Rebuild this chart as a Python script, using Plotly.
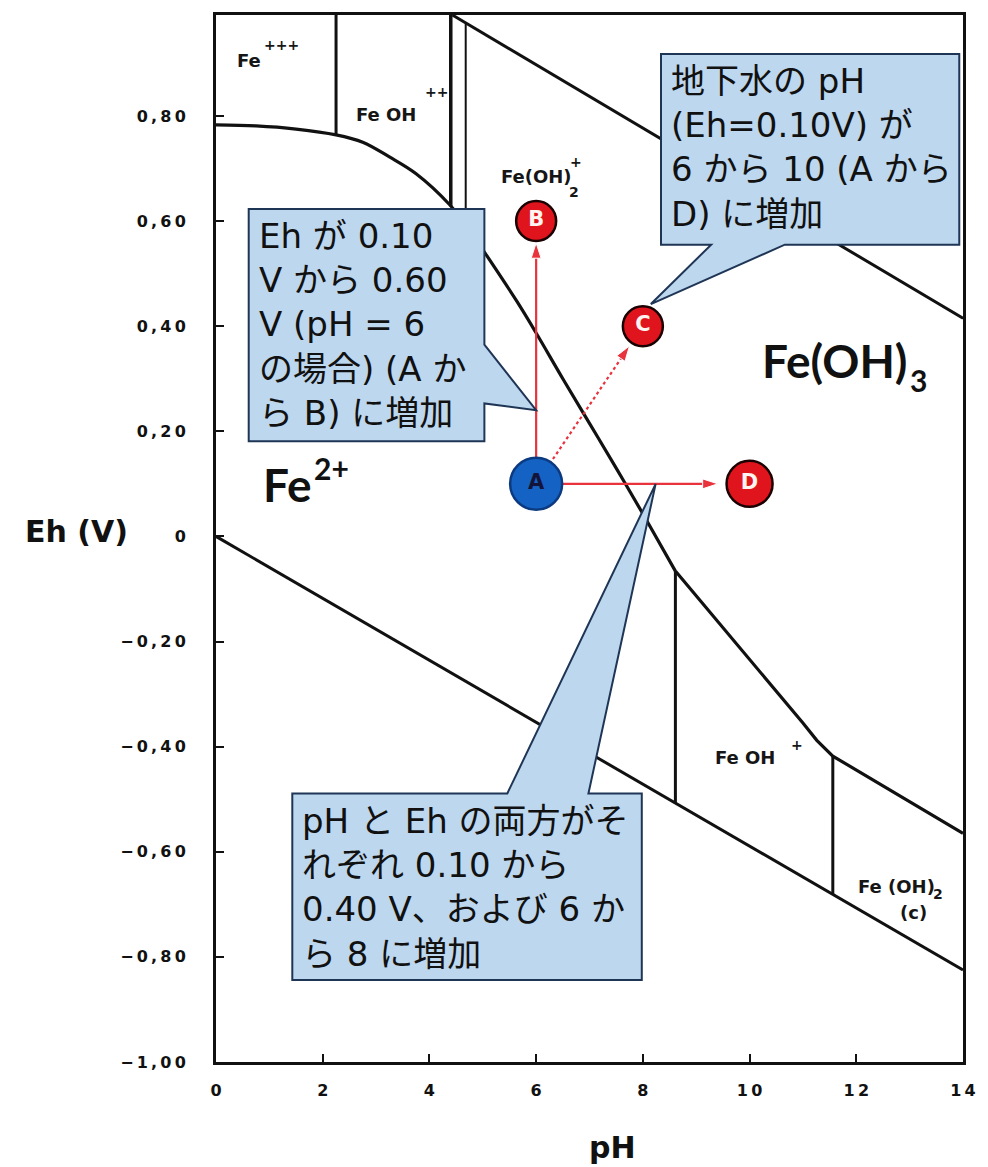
import math
import plotly.graph_objects as go

# ---- canvas and axes ----
W, H = 988, 1167
ML, MR, MT, MB = 216, 18, 13, 105
X_RANGE = [0, 14]
Y_RANGE = [-1.0, 0.992]
KX = (W - ML - MR) / (X_RANGE[1] - X_RANGE[0])   # px per pH unit
KY = (H - MT - MB) / (Y_RANGE[1] - Y_RANGE[0])   # px per volt

THIN = "\u2009"
x_tick_vals = [0, 2, 4, 6, 8, 10, 12, 14]
x_tick_text = ["0", "2", "4", "6", "8", "10", "12", "14"]
y_tick_vals = [-1.0, -0.8, -0.6, -0.4, -0.2, 0.0, 0.2, 0.4, 0.6, 0.8]
y_tick_text = ["\u22121,00", "\u22120,80", "\u22120,60", "\u22120,40", "\u22120,20",
               "0", "0,20", "0,40", "0,60", "0,80"]

# ---- stability-field boundaries (pH, Eh / V) ----
lower_ph = [0, 14]
lower_eh = [0.0, -0.825]

upper_ph = [4.43, 14]
upper_eh = [0.992, 0.415]

# Fe2+ / ferric boundary, acid part (smooth arc) and alkaline part
fe_acid_ph = [0, 0.75, 1.5, 2.25, 2.75, 3.25, 3.75, 4.38, 4.7, 5.03, 5.64,
              6.0, 6.5, 7.0, 7.5, 8.0, 8.61]
fe_acid_eh = [0.783, 0.781, 0.775, 0.764, 0.750, 0.722, 0.690, 0.631, 0.590,
              0.541, 0.447, 0.387, 0.300, 0.215, 0.130, 0.043, -0.066]
fe_alk_ph = [8.61, 9.2, 9.72, 10.2, 10.65, 11.0, 11.26, 11.56, 14]
fe_alk_eh = [-0.066, -0.137, -0.200, -0.258, -0.312, -0.355, -0.388, -0.418, -0.565]

vert_ph = [2.25, 4.40, 4.68, 8.61, 11.56]
vert_eh_top = [0.992, 0.992, 0.975, -0.066, -0.418]
vert_eh_bot = [0.764, 0.628, 0.590, -0.508, -0.682]
vert_width = [3, 3.5, 2, 3, 3]

# ---- groundwater states ----
pt_names = ["A", "B", "C", "D"]
pt_ph = [6, 6, 8, 10]
pt_eh = [0.10, 0.60, 0.40, 0.10]

RED = "#E0141C"
ARROW_RED = "#E8333C"
BLUE = "#1462C4"
INK = "#111111"

fig = go.Figure()

def boundary(xs, ys, width=3, shape="linear"):
    fig.add_trace(go.Scatter(x=xs, y=ys, mode="lines",
                             line=dict(color=INK, width=width, shape=shape,
                                       smoothing=1.0 if shape == "spline" else None),
                             hoverinfo="skip", showlegend=False))

boundary(lower_ph, lower_eh)
boundary(upper_ph, upper_eh)
boundary(fe_acid_ph, fe_acid_eh, 3.2, "spline")
boundary(fe_alk_ph, fe_alk_eh, 3.2)
for p, t, b, w in zip(vert_ph, vert_eh_top, vert_eh_bot, vert_width):
    boundary([p, p], [t, b], w)

# ---- arrows from A to B, C, D ----
gap_px = {"B": 22, "C": 24, "D": 32}
dash = {"B": "solid", "C": "dot", "D": "solid"}
a_ph, a_eh = pt_ph[0], pt_eh[0]
for name, p, e in zip(pt_names[1:], pt_ph[1:], pt_eh[1:]):
    dx, dy = (p - a_ph) * KX, (e - a_eh) * KY
    frac = 1 - gap_px[name] / math.hypot(dx, dy)
    end_ph = a_ph + (p - a_ph) * frac
    end_eh = a_eh + (e - a_eh) * frac
    fig.add_trace(go.Scatter(
        x=[a_ph, end_ph], y=[a_eh, end_eh], mode="lines+markers",
        line=dict(color=ARROW_RED, width=2.2, dash=dash[name]),
        marker=dict(symbol="arrow", size=[0, 16], angleref="previous",
                    color=ARROW_RED, opacity=1),
        opacity=1, hoverinfo="skip", showlegend=False))

# ---- state markers ----
fig.add_trace(go.Scatter(
    x=pt_ph, y=pt_eh, mode="markers+text", text=pt_names,
    textposition="middle center",
    textfont=dict(family="DejaVu Sans", size=21,
                  color=["#14143A", "#FFF4F0", "#FFF4F0", "#FFF4F0"], weight="bold"),
    marker=dict(size=[52, 40, 40, 46], color=[BLUE, RED, RED, RED], opacity=1,
                line=dict(color=["#0B3A80", "#1A0000", "#1A0000", "#1A0000"], width=2.5)),
    opacity=1, hoverinfo="skip", showlegend=False))

# ---- callouts ----
BOX_FILL = "#BDD7EE"
BOX_LINE = "#1F3556"
callouts = [
    dict(x0=0.613, x1=5.03, top=0.623, bot=0.181, side="right",
         base=(0.365, 0.253), tip=(6.0, 0.24),
         text="Eh が 0.10<br>V から 0.60<br>V (pH = 6<br>の場合) (A か<br>ら B) に増加"),
    dict(x0=8.34, x1=13.93, top=0.918, bot=0.555, side="bottom",
         base=(9.28, 10.66), tip=(8.15, 0.442),
         text="地下水の pH<br>(Eh=0.10V) が<br>6 から 10 (A から<br>D) に増加"),
    dict(x0=1.43, x1=7.98, top=-0.489, bot=-0.844, side="top",
         base=(5.46, 6.98), tip=(8.24, 0.10),
         text="pH と Eh の両方がそ<br>れぞれ 0.10 から<br>0.40 V、および 6 か<br>ら 8 に増加"),
]

for c in callouts:
    x0, x1, t, b = c["x0"], c["x1"], c["top"], c["bot"]
    b1, b2 = c["base"]
    tx, ty = c["tip"]
    if c["side"] == "right":
        pts = [(x0, t), (x1, t), (x1, b1), (tx, ty), (x1, b2), (x1, b), (x0, b)]
    elif c["side"] == "bottom":
        pts = [(x0, t), (x1, t), (x1, b), (b2, b), (tx, ty), (b1, b), (x0, b)]
    else:
        pts = [(x0, t), (b1, t), (tx, ty), (b2, t), (x1, t), (x1, b), (x0, b)]
    path = "M" + " L".join(f"{px},{py}" for px, py in pts) + " Z"
    fig.add_shape(type="path", path=path, xref="x", yref="y", layer="above",
                  fillcolor=BOX_FILL, line=dict(color=BOX_LINE, width=2))
    fig.add_annotation(x=x0 + 0.15, y=t - 0.01, xref="x", yref="y",
                       text=c["text"], showarrow=False, xanchor="left",
                       yanchor="top", align="left",
                       font=dict(family="DejaVu Sans, Noto Sans CJK JP",
                                 size=34, color=INK))

# ---- field labels ----
small = dict(family="DejaVu Sans", size=18, color="#161616", weight="bold")
tiny = dict(family="DejaVu Sans", size=14, color="#161616", weight="bold")
field_labels = [
    ("Fe", 0.35, 0.905, small), ("+++", 0.87, 0.935, tiny),
    ("Fe OH", 2.58, 0.802, small), ("++", 3.88, 0.846, tiny),
    ("Fe(OH)", 5.31, 0.684, small), ("2", 6.57, 0.655, tiny), ("+", 6.59, 0.713, tiny),
    ("Fe OH", 9.32, -0.420, small), ("+", 10.73, -0.396, tiny),
    ("Fe (OH)", 11.99, -0.667, small), ("2", 13.40, -0.680, tiny),
    ("(c)", 12.79, -0.715, small),
]
for txt, x, y, f in field_labels:
    fig.add_annotation(x=x, y=y, xref="x", yref="y", text=txt, showarrow=False,
                       xanchor="left", yanchor="middle", font=f)

big = dict(family="Lato", size=46, color=INK, weight="bold")
big_script = dict(family="Lato", size=30, color=INK, weight="bold")
major_labels = [
    ("Fe", 0.85, 0.098, big), ("2+", 1.80, 0.130, big_script),
    ("Fe(OH)", 10.20, 0.335, big), ("3", 12.97, 0.298, big_script),
]
for txt, x, y, f in major_labels:
    fig.add_annotation(x=x, y=y, xref="x", yref="y", text=txt, showarrow=False,
                       xanchor="left", yanchor="middle", font=f)

# ---- axis titles ----
title_font = dict(family="DejaVu Sans", size=30, color=INK, weight="bold")
fig.add_annotation(x=-0.187, y=0.507, xref="paper", yref="paper", text="Eh (V)",
                   showarrow=False, xanchor="center", yanchor="middle", font=title_font)
fig.add_annotation(x=0.5305, y=-0.082, xref="paper", yref="paper", text="pH",
                   showarrow=False, xanchor="center", yanchor="middle", font=title_font)

tick_font = dict(family="DejaVu Sans", size=16, color=INK, weight="bold")
axis_common = dict(showgrid=False, zeroline=False, showline=True, linecolor=INK,
                   linewidth=3, mirror=True, ticks="inside", ticklen=8,
                   tickwidth=2, tickcolor=INK, tickfont=tick_font)

fig.update_layout(
    width=W, height=H,
    margin=dict(l=ML, r=MR, t=MT, b=MB),
    paper_bgcolor="white", plot_bgcolor="white",
    xaxis=dict(range=X_RANGE, tickvals=x_tick_vals,
               ticktext=[THIN.join(s) for s in x_tick_text],
               ticklabelstandoff=12, **axis_common),
    yaxis=dict(range=Y_RANGE, tickvals=y_tick_vals,
               ticktext=[THIN.join(s) for s in y_tick_text],
               ticklabelstandoff=24, **axis_common),
    showlegend=False,
)

fig.write_html("out.html")
